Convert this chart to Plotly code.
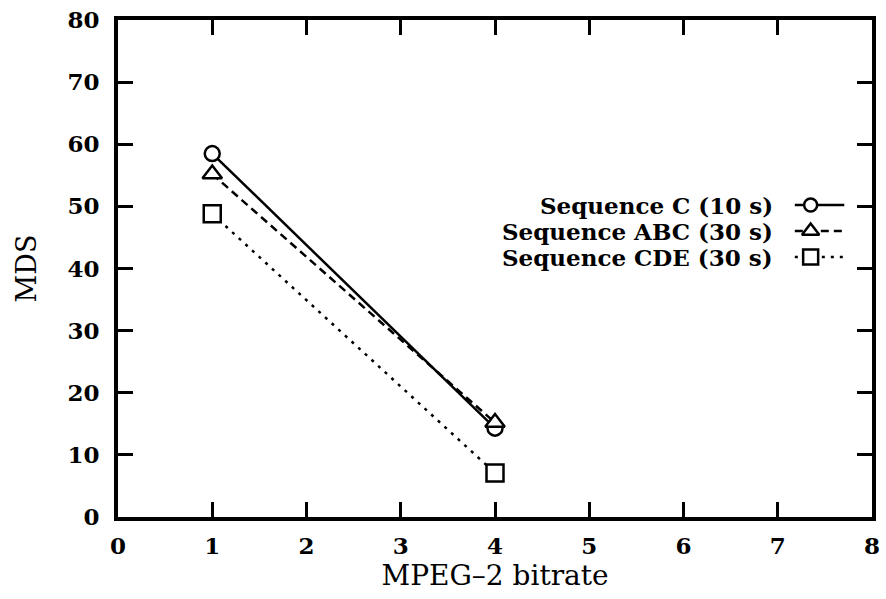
import plotly.graph_objects as go

# ---- data ----
bitrate = [1, 4]
seq_c = [58.5, 14.3]
seq_abc = [55.2, 15.2]
seq_cde = [48.8, 7.1]
names = ["Sequence C (10 s)", "Sequence ABC (30 s)", "Sequence CDE (30 s)"]
x_ticks = [0, 1, 2, 3, 4, 5, 6, 7, 8]
y_ticks = [0, 10, 20, 30, 40, 50, 60, 70, 80]

FONT = "DejaVu Serif"
W, H = 886, 599
L, R, T, B = 118, 6, 20, 82

series = [
    (seq_c, "circle", "solid", 15),
    (seq_abc, "triangle-up", "8px,5px", 17),
    (seq_cde, "square", "3px,6px", 17),
]

fig = go.Figure()
for vals, sym, dash, msize in series:
    fig.add_trace(go.Scatter(
        x=bitrate, y=vals, mode="lines+markers",
        line=dict(color="black", width=2.5, dash=dash),
        marker=dict(symbol=sym, size=msize, color="white",
                    line=dict(color="black", width=2.5)),
        showlegend=False, cliponaxis=False,
    ))

# custom legend (text left, sample right) on an overlay axis in [0,1]
pw = W - L - R
ph = H - T - B
lx0 = (802 - L) / pw
lx1 = (852 - L) / pw
lxm = (818 - L) / pw
ltext = (782 - L) / pw
rows_px = [205, 231, 257]
annotations = []
for (vals, sym, dash, msize), name, rp in zip(series, names, rows_px):
    yy = (H - B - rp) / ph
    fig.add_trace(go.Scatter(
        x=[lx0, lx1], y=[yy, yy], mode="lines", xaxis="x2", yaxis="y2",
        line=dict(color="black", width=2.5, dash=dash),
        showlegend=False, hoverinfo="skip",
    ))
    fig.add_trace(go.Scatter(
        x=[lxm], y=[yy], mode="markers", xaxis="x2", yaxis="y2",
        marker=dict(symbol=sym, size=msize - 2, color="white",
                    line=dict(color="black", width=2.5)),
        showlegend=False, hoverinfo="skip",
    ))
    annotations.append(dict(
        x=ltext, y=yy, xref="paper", yref="paper", text="<b>%s</b>" % name,
        showarrow=False, xanchor="right", yanchor="middle",
        font=dict(family=FONT, size=23, color="black"),
    ))

axis_common = dict(
    showline=True, linecolor="black", linewidth=4, mirror="ticks",
    ticks="inside", ticklen=15, tickwidth=3, tickcolor="black",
    showgrid=False, zeroline=False,
    tickfont=dict(family=FONT, size=23, color="black", weight="bold"),
)

fig.update_layout(
    width=W, height=H,
    margin=dict(l=L, r=R, t=T, b=B),
    paper_bgcolor="white", plot_bgcolor="white",
    xaxis=dict(range=[0, 8], tickvals=x_ticks, ticktext=[str(v) for v in x_ticks],
               ticklabelstandoff=5,
               title=dict(text="MPEG–2 bitrate", standoff=2,
                          font=dict(family=FONT, size=28, color="black")),
               **axis_common),
    yaxis=dict(range=[0, 80], tickvals=y_ticks, ticktext=[str(v) for v in y_ticks],
               ticklabelstandoff=10,
               title=dict(text="MDS", standoff=24,
                          font=dict(family=FONT, size=27, color="black")),
               **axis_common),
    xaxis2=dict(range=[0, 1], overlaying="x", visible=False, fixedrange=True),
    yaxis2=dict(range=[0, 1], overlaying="y", visible=False, fixedrange=True),
    annotations=annotations,
    showlegend=False,
)

fig.write_html("out.html")
